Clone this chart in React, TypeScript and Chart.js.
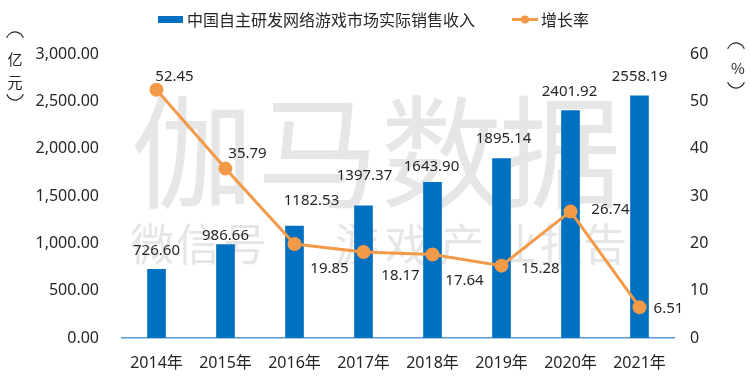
import React, { useEffect, useRef } from "react";
import { Chart, registerables } from "chart.js";

Chart.register(...registerables);

const years = ["2014年", "2015年", "2016年", "2017年", "2018年", "2019年", "2020年", "2021年"];
const revenue = [726.6, 986.66, 1182.53, 1397.37, 1643.9, 1895.14, 2401.92, 2558.19];
const growth = [52.45, 35.79, 19.85, 18.17, 17.64, 15.28, 26.74, 6.51];
const revenueName = "中国自主研发网络游戏市场实际销售收入";
const growthName = "增长率";
const leftTitle = ["亿", "元"];
const rightTitle = ["%"];

// label placement (pixel offsets from the mark), kept apart from the data
const revenueLabelOffsets = [[0, -18], [0, -9], [17, -25], [1, -30], [-1, -16], [2, -20], [-1, -19], [0, -19]];
const growthLabelOffsets = [[18, -13], [22, -15], [35, 25], [37, 24], [32, 26], [39, 3], [40, -2], [29, 2]];

const BLUE = "#0070C0";
const ORANGE = "#F39A48";
const TEXT = "#262626";
const FONT = "'Noto Sans', 'Noto Sans CJK SC', sans-serif";
const CJK = "'Noto Sans CJK SC', 'Noto Sans', sans-serif";

const watermarkPlugin = {
  id: "watermark",
  beforeDatasetsDraw(chart: any) {
    const ctx = chart.ctx;
    ctx.save();
    ctx.fillStyle = "#E6E6E6";
    ctx.textAlign = "center";
    ctx.textBaseline = "middle";
    ctx.font = `400 122px ${CJK}`;
    const big = ["伽", "马", "数", "据"];
    const bigX = [192, 318, 442, 560];
    big.forEach((c, i) => ctx.fillText(c, bigX[i], 152));
    ctx.font = `400 44px ${CJK}`;
    const small = ["微", "信", "号", "游", "戏", "产", "业", "报", "告"];
    const smallX = [152, 198, 245, 357, 407, 462, 515, 562, 605];
    small.forEach((c, i) => ctx.fillText(c, smallX[i], 244));
    ctx.restore();
  },
};

function drawBracket(ctx: any, x: number, cy: number, up: boolean) {
  ctx.beginPath();
  const mid = up ? Math.PI * 1.5 : Math.PI * 0.5;
  ctx.arc(x, cy, 9, mid - 1.2, mid + 1.2);
  ctx.stroke();
}

const labelsPlugin = {
  id: "customLabels",
  afterDatasetsDraw(chart: any) {
    const ctx = chart.ctx;
    ctx.save();
    ctx.fillStyle = TEXT;
    ctx.font = `15px ${FONT}`;
    ctx.textAlign = "center";
    ctx.textBaseline = "middle";
    const barMeta = chart.getDatasetMeta(0);
    barMeta.data.forEach((el: any, i: number) => {
      const [dx, dy] = revenueLabelOffsets[i];
      ctx.fillText(revenue[i].toFixed(2), el.x + dx, el.y + dy);
    });
    const lineMeta = chart.getDatasetMeta(1);
    lineMeta.data.forEach((el: any, i: number) => {
      const [dx, dy] = growthLabelOffsets[i];
      ctx.fillText(growth[i].toFixed(2), el.x + dx, el.y + dy);
    });
    ctx.restore();
  },
  afterDraw(chart: any) {
    const ctx = chart.ctx;
    ctx.save();
    // legend
    ctx.fillStyle = BLUE;
    ctx.fillRect(158, 16, 25, 7);
    ctx.fillStyle = TEXT;
    ctx.font = `16px ${CJK}`;
    ctx.textBaseline = "middle";
    ctx.textAlign = "left";
    ctx.fillText(revenueName, 187, 20);
    ctx.strokeStyle = ORANGE;
    ctx.lineWidth = 3;
    ctx.beginPath();
    ctx.moveTo(512, 19.5);
    ctx.lineTo(538, 19.5);
    ctx.stroke();
    ctx.fillStyle = ORANGE;
    ctx.beginPath();
    ctx.arc(525, 19.5, 4, 0, Math.PI * 2);
    ctx.fill();
    ctx.fillStyle = TEXT;
    ctx.fillText(growthName, 541, 20);
    // axis titles (vertical, with bracket arcs)
    ctx.textAlign = "center";
    ctx.font = `15px ${CJK}`;
    ctx.fillText(leftTitle[0], 15, 59);
    ctx.fillText(leftTitle[1], 15, 82);
    ctx.fillText(rightTitle[0], 738, 68);
    ctx.strokeStyle = TEXT;
    ctx.lineWidth = 1.2;
    drawBracket(ctx, 15, 41, true);
    drawBracket(ctx, 15, 91, false);
    drawBracket(ctx, 736, 52, true);
    drawBracket(ctx, 736, 79, false);
    ctx.restore();
  },
};

export default function App() {
  const ref = useRef<HTMLCanvasElement>(null);
  useEffect(() => {
    if (!ref.current) return;
    const chart = new Chart(ref.current, {
      type: "bar",
      data: {
        labels: years,
        datasets: [
          {
            type: "bar",
            label: revenueName,
            data: revenue,
            backgroundColor: BLUE,
            barThickness: 18,
            yAxisID: "y",
            order: 1,
          },
          {
            type: "line",
            label: growthName,
            data: growth,
            borderColor: ORANGE,
            backgroundColor: ORANGE,
            borderWidth: 3,
            pointRadius: 5.5,
            pointBackgroundColor: ORANGE,
            pointBorderColor: ORANGE,
            tension: 0,
            yAxisID: "y1",
            order: 0,
          },
        ],
      } as any,
      options: {
        responsive: false,
        maintainAspectRatio: false,
        animation: false,
        devicePixelRatio: 1,
        layout: { padding: { top: 54, left: 0, right: 0, bottom: 0 } },
        plugins: {
          legend: { display: false },
          tooltip: { enabled: false },
        },
        scales: {
          x: {
            offset: true,
            grid: { display: false, drawTicks: false },
            border: { display: true, color: "#5B9BD5", width: 1.5 },
            ticks: { color: TEXT, font: { size: 16, family: FONT }, padding: 16, maxRotation: 0 },
            afterFit: (s: any) => { s.height = 49; },
          },
          y: {
            position: "left",
            min: 0,
            max: 3000,
            grid: { display: false, drawTicks: false },
            border: { display: false },
            ticks: {
              stepSize: 500,
              color: TEXT,
              font: { size: 16, family: FONT },
              padding: 23,
              callback: (v: any) =>
                Number(v).toLocaleString("en-US", { minimumFractionDigits: 2, maximumFractionDigits: 2 }),
            },
            afterFit: (s: any) => { s.width = 122; },
          },
          y1: {
            position: "right",
            min: 0,
            max: 60,
            grid: { display: false, drawTicks: false },
            border: { display: false },
            ticks: { stepSize: 10, color: TEXT, font: { size: 16, family: FONT }, padding: 16 },
            afterFit: (s: any) => { s.width = 76; },
          },
        },
      } as any,
      plugins: [watermarkPlugin, labelsPlugin],
    });
    return () => chart.destroy();
  }, []);
  return (
    <div style={{ position: "absolute", left: 0, top: 0, width: 750, height: 387, background: "#fff" }}>
      <canvas ref={ref} width={750} height={387} />
    </div>
  );
}
